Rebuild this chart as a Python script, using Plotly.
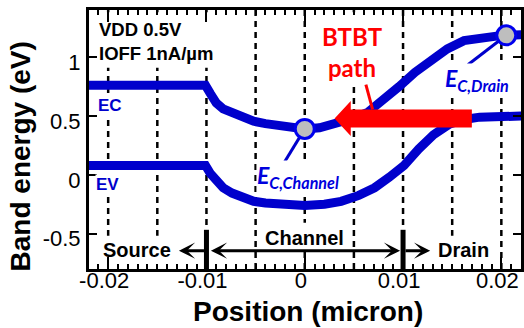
import numpy as np
import plotly.graph_objects as go

# Band diagram along the device (position in micron, energy in eV)
pos_ec = [-0.0225, -0.0101, -0.0096, -0.0090, -0.0083, -0.0075, -0.0063, -0.0052, -0.0040,
          -0.0030, -0.0015, 0.0, 0.0015, 0.0030, 0.0045, 0.0064, 0.0080, 0.0096, 0.0112,
          0.0128, 0.0145, 0.0162, 0.0178, 0.0195, 0.0205, 0.0225]
ec = [0.76, 0.76, 0.69, 0.61, 0.56, 0.53, 0.49, 0.455, 0.435,
      0.42, 0.40, 0.39, 0.40, 0.428, 0.47, 0.53, 0.63, 0.75, 0.87,
      0.975, 1.07, 1.14, 1.165, 1.178, 1.185, 1.19]

pos_ev = [-0.0225, -0.0101, -0.0096, -0.0090, -0.0083, -0.0074, -0.0063, -0.0052, -0.0040,
          -0.0025, 0.0, 0.0020, 0.0037, 0.0055, 0.0071, 0.0086, 0.0101, 0.0116, 0.0131,
          0.0147, 0.0162, 0.0178, 0.0195, 0.0225]
ev = [0.08, 0.08, 0.01, -0.06, -0.11, -0.155, -0.195, -0.225, -0.24,
      -0.25, -0.26, -0.25, -0.225, -0.175, -0.11, -0.02, 0.08, 0.22, 0.34,
      0.43, 0.47, 0.49, 0.497, 0.50]

# Highlighted conduction-band points (channel and drain)
mark_pos = [0.0, 0.0205]
mark_names = ["<b><i>E</i></b><sub><b><i>C,Channel</i></b></sub>",
              "<b><i>E</i></b><sub><b><i>C,Drain</i></b></sub>"]

grid_x = [-0.02, -0.015, -0.01, -0.005, 0.0, 0.005, 0.01, 0.015, 0.02]
x_ticks = [-0.02, -0.01, 0.0, 0.01, 0.02]
x_labels = ["-0.02", "-0.01", "0", "0.01", "0.02"]
y_ticks = [-0.5, 0, 0.5, 1]
y_labels = ["-0.5", "0", "0.5", "1"]

BLUE = "#0000CC"
RED = "#FF0000"
FONT = "Liberation Sans, Arial, sans-serif"
CAL = "Lato, Open Sans, sans-serif"

XR = [-0.02195, 0.02200]
YR = [-0.8, 1.4]

fig = go.Figure()

for px, py in [(pos_ec, ec), (pos_ev, ev)]:
    fig.add_trace(go.Scatter(x=px, y=py, mode="lines", cliponaxis=False,
                             line=dict(color=BLUE, width=9, shape="linear"),
                             hoverinfo="skip", showlegend=False))

mark_e = list(np.interp(mark_pos, pos_ec, ec))

shapes = []
# dashed vertical guides
for xv in grid_x:
    shapes.append(dict(type="line", xref="x", yref="paper", x0=xv, x1=xv, y0=0, y1=1,
                       layer="below", line=dict(color="black", width=2.5, dash="6px,5px")))
# white boxes behind the text blocks
for (x0, x1, y0, y1) in [(-0.0214, -0.00775, 0.909, 1.381),
                         (0.00134, 0.00892, 0.765, 1.381),
                         (-0.0214, -0.0130, -0.80, -0.517),
                         (-0.00452, 0.00437, -0.627, -0.408),
                         (0.01306, 0.01912, -0.80, -0.517)]:
    shapes.append(dict(type="rect", xref="x", yref="y", x0=x0, x1=x1, y0=y0, y1=y1,
                       layer="below", fillcolor="white", line=dict(width=0)))
# region boundaries at the source/channel and channel/drain junctions
for xv in [-0.01, 0.01]:
    shapes.append(dict(type="line", xref="x", yref="y", x0=xv, x1=xv, y0=-0.467, y1=YR[0],
                       layer="above", line=dict(color="black", width=5)))
# leader lines to the highlighted points
leader_ends = [(-0.00285, -0.0), (0.0166, 0.935)]
for (mx, my), (lx, ly) in zip(zip(mark_pos, mark_e), leader_ends):
    shapes.append(dict(type="line", xref="x", yref="y", x0=mx, y0=my, x1=lx, y1=ly,
                       layer="below", line=dict(color=BLUE, width=3)))

# BTBT path arrow
ay_c, a_tip, a_base, a_tail = 0.478, 0.00303, 0.00468, 0.0170
bh, hh = 0.076, 0.148
shapes.append(dict(type="path", xref="x", yref="y", layer="above",
                   path=(f"M{a_tail},{ay_c+bh} L{a_base},{ay_c+bh} L{a_base},{ay_c+hh} "
                         f"L{a_tip},{ay_c} L{a_base},{ay_c-hh} L{a_base},{ay_c-bh} "
                         f"L{a_tail},{ay_c-bh} Z"),
                   fillcolor=RED, line=dict(width=0)))
shapes.append(dict(type="line", xref="x", yref="y", x0=0.00622, y0=0.766, x1=0.0069, y1=0.555,
                   layer="above", line=dict(color=RED, width=3)))

fig.add_trace(go.Scatter(x=mark_pos, y=mark_e, mode="markers", cliponaxis=False,
                         marker=dict(size=19, color="#BEBEBE",
                                     line=dict(color="#0000EE", width=3)),
                         hoverinfo="skip", showlegend=False))

ann = []
def txt(x, y, t, size, color="black", family=FONT, xanchor="center", yanchor="middle",
        bg=None, align="center", xref="x", yref="y", angle=0, weight="bold"):
    d = dict(x=x, y=y, xref=xref, yref=yref, text=t, showarrow=False, xanchor=xanchor,
             yanchor=yanchor, align=align, textangle=angle, borderpad=0,
             font=dict(family=family, size=size, color=color, weight=weight))
    if bg:
        d["bgcolor"] = bg
    ann.append(d)

txt(-0.02108, 1.133, "VDD 0.5V<br>IOFF 1nA/µm", 18.5, xanchor="left", align="left")
txt(0.00488, 1.043, "BTBT<br>path", 24, color=RED, family=CAL)
txt(-0.01982, 0.588, "EC", 17, color=BLUE, bg="white")
txt(-0.02002, -0.083, "EV", 17, color=BLUE, bg="white")
txt(-0.00492, -0.011, mark_names[0], 23, color="#0000DD", family=CAL, xanchor="left",
    bg="white", weight="normal")
txt(0.01417, 0.808, mark_names[1], 23, color="#0000DD", family=CAL, xanchor="left",
    bg="white", weight="normal")
txt(-0.01709, -0.64, "Source", 20)
txt(0.0, -0.534, "Channel", 20)
txt(0.01616, -0.64, "Drain", 20)

# axis titles
txt((20 - 89) / 435, (269 - 156) / 259, "Band energy (eV)", 28, xref="paper", yref="paper",
    angle=-90)
txt((310 - 89) / 435, (269 - 311) / 259, "Position (micron)", 28, xref="paper", yref="paper")

# region arrows along the bottom
arr_y = -0.644
def arrow(x_from, x_to, both=False):
    d = dict(x=x_to, y=arr_y, ax=x_from, ay=arr_y, xref="x", yref="y", axref="x", ayref="y",
             text="", showarrow=True, arrowhead=3, arrowsize=0.9, arrowwidth=3,
             arrowcolor="black")
    if both:
        d.update(arrowside="end+start", startarrowhead=3, startarrowsize=0.9)
    ann.append(d)

arrow(-0.0101, -0.0128)
arrow(-0.0097, 0.0097, both=True)
arrow(0.0101, 0.01276)

fig.update_layout(
    width=524, height=328,
    margin=dict(l=89, r=0, t=10, b=59),
    paper_bgcolor="white", plot_bgcolor="white",
    shapes=shapes, annotations=ann, showlegend=False,
    xaxis=dict(range=XR, tickmode="array", tickvals=x_ticks, ticktext=x_labels,
               ticks="inside", ticklen=12, tickwidth=2, tickcolor="black",
               showline=True, linewidth=3, linecolor="black", mirror="ticks",
               showgrid=False, zeroline=False, ticklabelshift=-4, ticklabelstandoff=-10,
               tickfont=dict(family=FONT, size=22, color="black"),
               minor=dict(tickmode="linear", tick0=0, dtick=0.001, ticks="inside",
                          ticklen=5, tickwidth=2, tickcolor="black", showgrid=False)),
    yaxis=dict(range=YR, tickmode="array", tickvals=y_ticks, ticktext=y_labels,
               ticks="inside", ticklen=8, tickwidth=2, tickcolor="black",
               showline=True, linewidth=3, linecolor="black", mirror="ticks",
               showgrid=False, zeroline=False, ticklabelshift=5, ticklabelstandoff=1,
               tickfont=dict(family=FONT, size=22, color="black")),
)

fig.write_html("out.html")
